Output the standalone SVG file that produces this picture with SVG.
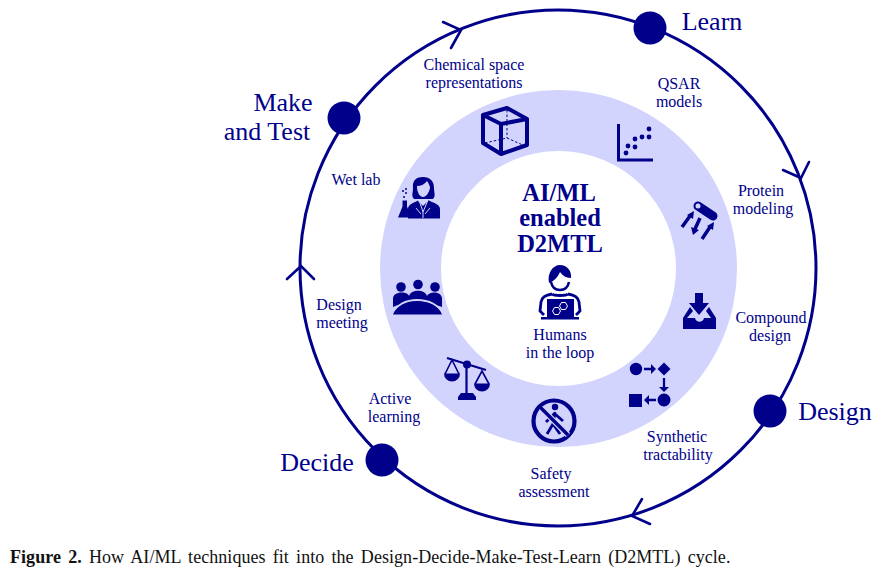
<svg xmlns="http://www.w3.org/2000/svg" width="882" height="570" viewBox="0 0 882 570">
<style>
text{font-family:"Liberation Serif","Times New Roman",serif;fill:#00008b;text-anchor:middle}
.s{font-size:16px;transform:translateY(.7px)}
.m{font-size:26px}
.t{font-size:24.500px;font-weight:bold}
.c{font-size:18px;fill:#111;text-anchor:start;letter-spacing:.05px;word-spacing:2.650px}
.f{fill:#00008b;stroke:none}
.d{fill:#00008b}
.a{fill:none;stroke:#00008b;stroke-width:2.6;stroke-linecap:round}
</style>
<rect width="882" height="570" fill="#fff"/>
<g id="ring"><path fill="#d2d4fd" fill-rule="evenodd" d="M380 268.500a178.500 178.500 0 1 0 357 0a178.500 178.500 0 1 0-357 0ZM441 268.500a117.500 117.500 0 1 1 235 0a117.500 117.500 0 1 1-235 0Z"/></g>
<g id="connectors">
<circle cx="558" cy="268" r="258" fill="none" stroke="#00008b" stroke-width="3"/>
<path class="a" d="M443 22L461 30L451 48"/>
<path class="a" d="M783 170L801 178L809 162"/>
<path class="a" d="M642 499L632 516L650 524"/>
<path class="a" d="M287 279L301 266L314 279"/>
</g>
<g id="learn"><circle class="d" cx="650" cy="28" r="16.500"/><text class="m" x="712" y="30">Learn</text></g>
<g id="design"><circle class="d" cx="770" cy="411" r="16.500"/><text class="m" x="835" y="420">Design</text></g>
<g id="decide"><circle class="d" cx="382" cy="460" r="16.500"/><text class="m" x="317" y="471">Decide</text></g>
<g id="make"><circle class="d" cx="344" cy="118" r="16.500"/><text class="m" x="283" y="111">Make</text><text class="m" x="267" y="140">and Test</text></g>
<g id="center"><text class="t" x="559" y="201">AI/ML</text><text class="t" x="560" y="226">enabled</text><text class="t" x="560" y="252">D2MTL</text>
<text class="s" x="560" y="339">Humans</text><text class="s" x="560" y="357">in the loop</text>
<path class="f" d="M549 283c-2-10 4-18 11-18c7 0 12 6 11 13c-5 0-9-3-11-6c-2 5-6 9-11 11Z"/>
<path d="M551 282c1 5 4 8 9 8s8-3 9-8" fill="none" stroke="#00008b" stroke-width="2.500"/>
<path d="M552 294c-7 1-10 3-11 8l-1 9l4 4M568 294c7 1 10 3 11 8l1 9l-4 4M552 294c2 2 14 2 16 0" fill="none" stroke="#00008b" stroke-width="2.800"/>
<rect class="f" x="547" y="299" width="27" height="18"/><rect class="f" x="541" y="317" width="38" height="2.500"/>
<path fill="none" stroke="#fff" stroke-width="1" d="M552.500 311l2-3.500h4l2 3.500l-2 3.500h-4ZM559.500 306l2-3.500h4l2 3.500l-2 3.500h-4Z"/></g>
<g id="chem"><text class="s" x="474" y="69">Chemical space</text><text class="s" x="474" y="87">representations</text>
<path d="M483 115L507 108L527 119L501 124ZM483 115V143L501 154V124M527 119V145L501 154" fill="none" stroke="#00008b" stroke-width="4" stroke-linejoin="round"/>
<path d="M507 110V138M485 143L507 138L525 146" fill="none" stroke="#00008b" stroke-dasharray="2.500 2"/></g>
<g id="qsar"><text class="s" x="679" y="88">QSAR</text><text class="s" x="679" y="106">models</text>
<path d="M618.500 124V160H653" fill="none" stroke="#00008b" stroke-width="3"/>
<circle class="d" cx="626" cy="153" r="2.400"/><circle class="d" cx="628" cy="146" r="2.400"/><circle class="d" cx="635" cy="147" r="2.400"/><circle class="d" cx="635" cy="139" r="2.400"/><circle class="d" cx="642" cy="137" r="2.400"/><circle class="d" cx="649" cy="137" r="2.400"/><circle class="d" cx="649" cy="129" r="2.400"/></g>
<g id="protein"><text class="s" x="761" y="195">Protein</text><text class="s" x="763" y="213">modeling</text>
<path d="M698 206L713 216" stroke="#00008b" stroke-width="9" stroke-linecap="round"/>
<circle cx="698" cy="206" r="2.500" fill="#d2d4fd"/>
<path d="M682 227L690 216M700 218L695 229M702 239L710 227" stroke="#00008b" stroke-width="3.500"/>
<path class="f" d="M694 211L693 219L687 215ZM693 235L691 227L699 230ZM714 222L713 230L707 226Z"/></g>
<g id="compound"><text class="s" x="771" y="322">Compound</text><text class="s" x="770" y="340">design</text>
<path class="f" d="M695 293H703V303H709L699 315L689 303H695ZM690 307L683 318V329H716V318L709 307L706 311L711 318H704C703 323 696 323 695 318H687L693 311Z"/></g>
<g id="synth"><text class="s" x="677" y="441">Synthetic</text><text class="s" x="678" y="459">tractability</text>
<circle class="d" cx="636" cy="369" r="6.200"/><path class="f" d="M664 362.500L670.500 369L664 375.500L657.500 369Z"/><rect class="f" x="629" y="394" width="13" height="13"/><circle class="d" cx="664" cy="400" r="6.500"/>
<path d="M644 369H653M664 378V388M656 400H647" fill="none" stroke="#00008b" stroke-width="2.300"/>
<path class="f" d="M651 364L656 369L651 374ZM659 387L664 392L669 387ZM649 395L644 400L649 405Z"/></g>
<g id="safety"><text class="s" x="551" y="478">Safety</text><text class="s" x="554" y="496">assessment</text>
<circle cx="554" cy="421" r="20.500" fill="none" stroke="#00008b" stroke-width="4.200"/>
<circle class="d" cx="555" cy="407" r="3.200"/><path d="M555 412L553 424L547 434M553 424L560 434M555 414L563 421M554 414L546 422" fill="none" stroke="#00008b" stroke-width="2.800"/>
<path d="M541 408L568 435" stroke="#d2d4fd" stroke-width="6"/><path d="M540 407L568 435" stroke="#00008b" stroke-width="3.400"/></g>
<g id="active"><text class="s" x="390" y="403">Active</text><text class="s" x="394" y="421">learning</text>
<path d="M447 358L486 370M466.500 364V394" fill="none" stroke="#00008b" stroke-width="2.200"/>
<circle class="d" cx="467" cy="364.500" r="4"/><path class="f" d="M461 393H473L476 397V400H458V397Z"/>
<path class="f" d="M444 373.500H460A8 8 0 0 1 444 373.500ZM474 383.500H490A8 8 0 0 1 474 383.500Z"/>
<path d="M445 374L452 360L459 374M475 384L482 371L489 384" fill="none" stroke="#00008b" stroke-width="1.600"/></g>
<g id="meeting"><text class="s" x="339" y="309">Design</text><text class="s" x="342" y="327">meeting</text>
<circle class="d" cx="401" cy="287" r="4.800"/><circle class="d" cx="418" cy="284.500" r="4.800"/><circle class="d" cx="435" cy="287" r="4.800"/>
<path class="f" d="M393 307V298C394 291 408 291 409 296C411 289 425 289 427 296C429 291 441 291 442 298V307L436 305H398Z"/>
<path d="M393 314C396 305 406 300 417 300C429 300 439 305 442 314Z" fill="#00008b" stroke="#d2d4fd" stroke-width="2"/>
<path class="f" d="M393 314.500C396 306 406 301.500 417.500 301.500C429 301.500 439 306 442 314.500Z"/></g>
<g id="wet"><text class="s" x="356" y="184">Wet lab</text>
<path class="f" d="M413 188C412 180 417 177 423 177C430 177 434 181 434 188C434 193 436 196 433 199H414C411 196 413 193 413 188Z"/>
<path d="M417 186C421 186 425 184 427 181C429 184 430 186 430 188C429 193 426 197 423 197C420 197 417 193 417 186Z" fill="#d2d4fd"/>
<path class="f" d="M408 218.500V209C408 204 414 203 419 200L423 204L428 200C433 203 440 204 440 209V218.500Z"/>
<path d="M419 200L423 212L428 200M423 212V218M416 208L421 214M430 208L425 214" fill="none" stroke="#d2d4fd" stroke-width="1"/>
<path d="M418 199H428V201L423 206L418 201Z" fill="#d2d4fd"/>
<path class="f" d="M402.500 200.500H407V206.500L411.500 217.500H398L402.500 206.500Z"/>
<circle class="d" cx="404" cy="197" r="1"/><circle class="d" cx="406" cy="193" r="1"/><circle class="d" cx="403" cy="191" r="1"/><circle class="d" cx="406" cy="189" r="1"/></g>
<g id="caption"><text class="c" x="10" y="563"><tspan font-weight="bold">Figure 2.</tspan> How AI/ML techniques fit into the Design-Decide-Make-Test-Learn (D2MTL) cycle.</text></g>
</svg>
